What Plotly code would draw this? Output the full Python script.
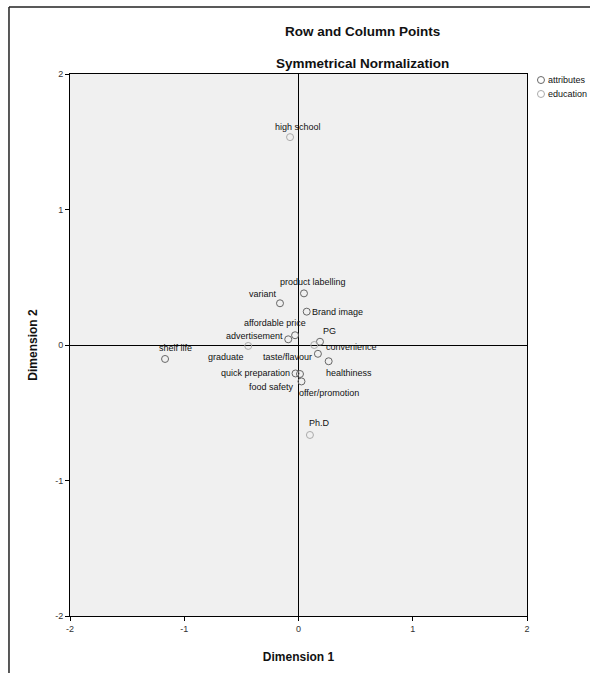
import plotly.graph_objects as go

# ---- data ----
attr_names = ["product labelling", "variant", "Brand image", "affordable price",
              "advertisement", "convenience", "shelf life", "taste/flavour",
              "healthiness", "quick preparation", "food safety", "offer/promotion"]
attr_dim1 = [0.048, -0.162, 0.072, -0.030, -0.090, 0.188, -1.168, 0.170,
             0.264, -0.026, 0.013, 0.026]
attr_dim2 = [0.381, 0.308, 0.246, 0.072, 0.042, 0.024, -0.103, -0.065,
             -0.120, -0.210, -0.214, -0.269]

edu_names = ["high school", "graduate", "PG", "Ph.D"]
edu_dim1 = [-0.074, -0.440, 0.138, 0.100]
edu_dim2 = [1.534, -0.007, 0.000, -0.664]

series_names = ["attributes", "education"]
axis_ticks = [-2, -1, 0, 1, 2]

# ---- label placement (pixels relative to each point) ----
label_style = {
    "product labelling": dict(xanchor="center", xshift=9, yshift=11),
    "variant": dict(xanchor="center", xshift=-17, yshift=9),
    "Brand image": dict(xanchor="left", xshift=3, yshift=0),
    "affordable price": dict(xanchor="center", xshift=-20, yshift=12),
    "advertisement": dict(xanchor="right", xshift=-3, yshift=3),
    "convenience": dict(xanchor="left", xshift=4, yshift=-5),
    "shelf life": dict(xanchor="center", xshift=10, yshift=11),
    "taste/flavour": dict(xanchor="right", xshift=-4, yshift=-3),
    "healthiness": dict(xanchor="center", xshift=20, yshift=-12),
    "quick preparation": dict(xanchor="right", xshift=-4, yshift=0),
    "food safety": dict(xanchor="right", xshift=-4, yshift=-13),
    "offer/promotion": dict(xanchor="left", xshift=-4, yshift=-12),
    "high school": dict(xanchor="center", xshift=8, yshift=10),
    "graduate": dict(xanchor="center", xshift=-22, yshift=-11),
    "PG": dict(xanchor="center", xshift=15, yshift=14),
    "Ph.D": dict(xanchor="center", xshift=10, yshift=12),
}

FONT = "Liberation Sans, Arial, sans-serif"
series_colors = ["#666666", "#aaaaaa"]

fig = go.Figure()
fig.add_trace(go.Scatter(
    x=attr_dim1, y=attr_dim2, mode="markers", name=series_names[0], showlegend=False,
    marker=dict(symbol="circle", size=7, color="rgba(0,0,0,0)",
                line=dict(color=series_colors[0], width=1)),
))
fig.add_trace(go.Scatter(
    x=edu_dim1, y=edu_dim2, mode="markers", name=series_names[1], showlegend=False,
    marker=dict(symbol="circle", size=7, color="rgba(0,0,0,0)",
                line=dict(color=series_colors[1], width=1)),
))

for names, xs, ys in [(attr_names, attr_dim1, attr_dim2), (edu_names, edu_dim1, edu_dim2)]:
    for n, xv, yv in zip(names, xs, ys):
        st = label_style[n]
        fig.add_annotation(x=xv, y=yv, xref="x", yref="y", text=n, showarrow=False,
                           xanchor=st["xanchor"], yanchor="middle",
                           xshift=st["xshift"], yshift=st["yshift"],
                           font=dict(family=FONT, size=9, color="#111111"))

# compact legend (symbol + text) placed right of the plot box
leg_x, leg_text_x = 1.0306, 1.0416
leg_y = [0.9889, 0.9631]
rx, ry = 3.5 / 457, 3.5 / 542
for name, col, yy in zip(series_names, series_colors, leg_y):
    fig.add_shape(type="circle", xref="paper", yref="paper",
                  x0=leg_x - rx, x1=leg_x + rx, y0=yy - ry, y1=yy + ry,
                  line=dict(color=col, width=1), fillcolor="rgba(0,0,0,0)")
    fig.add_annotation(x=leg_text_x, y=yy, xref="paper", yref="paper", text=name,
                       showarrow=False, xanchor="left", yanchor="middle",
                       font=dict(family=FONT, size=9, color="#111111"))

# titles
fig.add_annotation(x=0.639, y=1.0775, xref="paper", yref="paper",
                   text="<b>Row and Column Points</b>", showarrow=False,
                   xanchor="center", yanchor="middle",
                   font=dict(family=FONT, size=13.5, color="#111111"))
fig.add_annotation(x=0.639, y=1.0185, xref="paper", yref="paper",
                   text="<b>Symmetrical Normalization</b>", showarrow=False,
                   xanchor="center", yanchor="middle",
                   font=dict(family=FONT, size=13.5, color="#111111"))

# outer frame (left & top edges of the cropped output)
fig.add_shape(type="line", xref="paper", yref="paper", x0=-0.1335, x1=-0.1335,
              y0=-0.2, y1=1.1236, line=dict(color="#222222", width=1.5))
fig.add_shape(type="line", xref="paper", yref="paper", x0=-0.1335, x1=1.3,
              y0=1.1236, y1=1.1236, line=dict(color="#222222", width=1.5))

axis_common = dict(
    range=[-2, 2], tickvals=axis_ticks, ticktext=[str(t) for t in axis_ticks],
    ticks="outside", ticklen=4, tickcolor="#000000", tickwidth=1,
    showline=True, linecolor="#000000", linewidth=1, mirror=True,
    showgrid=False, zeroline=True, zerolinecolor="#000000", zerolinewidth=1,
    tickfont=dict(family=FONT, size=9, color="#333333"),
)

fig.update_layout(
    width=590, height=673,
    margin=dict(l=70, r=63, t=74, b=57, autoexpand=False),
    paper_bgcolor="#ffffff", plot_bgcolor="#f0f0f0",
    xaxis=dict(**axis_common,
               title=dict(text="<b>Dimension 1</b>", standoff=19,
                          font=dict(family=FONT, size=12, color="#111111"))),
    yaxis=dict(**axis_common,
               title=dict(text="<b>Dimension 2</b>", standoff=14,
                          font=dict(family=FONT, size=12, color="#111111"))),
    showlegend=False,
)

fig.write_html("out.html")
